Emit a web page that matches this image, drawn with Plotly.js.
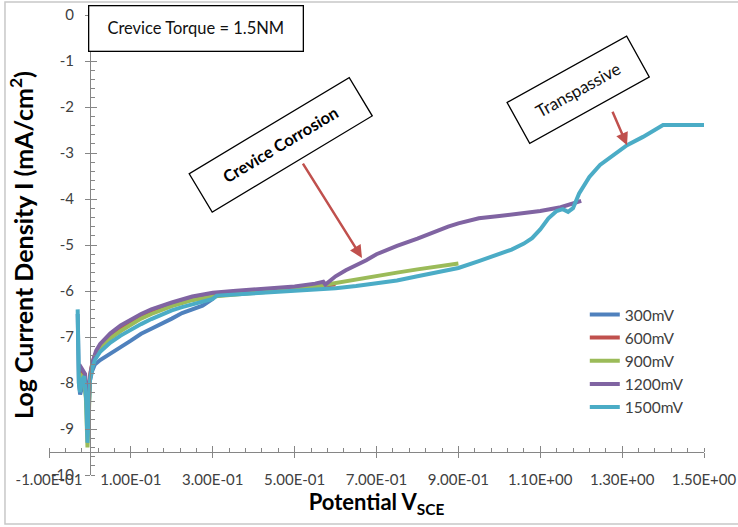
<!DOCTYPE html>
<html><head><meta charset="utf-8">
<script src="https://cdn.plot.ly/plotly-3.0.1.min.js"></script>
<style>html,body{margin:0;padding:0;background:#fff}#chart{width:738px;height:527px}</style>
</head><body><div id="chart"></div>
<script>
// ---- data ----
const seriesNames = ["300mV", "600mV", "900mV", "1200mV", "1500mV"];
const seriesColors = ["#4F81BD", "#C0504D", "#9BBB59", "#8064A2", "#4BACC6"];

const x300 = [-0.030, -0.029, -0.027, -0.024, -0.018, -0.012, -0.008, -0.005, -0.002, 0.000, 0.005, 0.012, 0.025, 0.05, 0.075, 0.10, 0.125, 0.15, 0.175, 0.20, 0.225, 0.25, 0.275, 0.30];
const y300 = [-6.5, -7.3, -8.0, -8.25, -8.05, -7.95, -8.3, -8.9, -8.4, -7.95, -7.75, -7.6, -7.5, -7.35, -7.22, -7.08, -6.93, -6.82, -6.72, -6.6, -6.48, -6.4, -6.32, -6.17];

const x600 = [-0.026, -0.018, -0.010, -0.006, -0.003, 0.000, 0.005, 0.012, 0.025, 0.05, 0.075, 0.10, 0.125, 0.15, 0.175, 0.20, 0.25, 0.30, 0.35, 0.40, 0.45, 0.50, 0.55, 0.60];
const y600 = [-7.7, -7.8, -8.1, -8.8, -8.4, -7.85, -7.6, -7.4, -7.2, -6.98, -6.82, -6.68, -6.56, -6.46, -6.37, -6.3, -6.16, -6.07, -6.02, -5.99, -5.96, -5.93, -5.9, -5.86];

const x900 = [-0.025, -0.016, -0.010, -0.006, -0.003, 0.000, 0.005, 0.012, 0.025, 0.05, 0.075, 0.10, 0.125, 0.15, 0.175, 0.20, 0.25, 0.30, 0.35, 0.40, 0.45, 0.50, 0.55, 0.60, 0.65, 0.70, 0.75, 0.80, 0.85, 0.90];
const y900 = [-7.8, -7.9, -8.3, -9.4, -8.8, -7.9, -7.65, -7.45, -7.25, -7.03, -6.87, -6.73, -6.6, -6.5, -6.41, -6.33, -6.2, -6.12, -6.08, -6.05, -6.01, -5.97, -5.9, -5.82, -5.75, -5.68, -5.6, -5.53, -5.46, -5.4];

const x1200 = [-0.026, -0.020, -0.012, -0.007, -0.004, -0.001, 0.002, 0.008, 0.015, 0.025, 0.05, 0.075, 0.10, 0.125, 0.15, 0.175, 0.20, 0.25, 0.30, 0.35, 0.40, 0.45, 0.50, 0.55, 0.57, 0.575, 0.60, 0.625, 0.65, 0.675, 0.70, 0.725, 0.75, 0.80, 0.825, 0.85, 0.875, 0.90, 0.95, 1.00, 1.05, 1.10, 1.15, 1.20];
const y1200 = [-7.6, -7.7, -7.8, -8.3, -8.6, -8.0, -7.75, -7.5, -7.3, -7.15, -6.92, -6.75, -6.62, -6.5, -6.4, -6.32, -6.25, -6.12, -6.04, -6.0, -5.97, -5.93, -5.9, -5.84, -5.8, -5.86, -5.68, -5.55, -5.45, -5.33, -5.2, -5.1, -5.02, -4.86, -4.77, -4.68, -4.6, -4.53, -4.42, -4.37, -4.32, -4.26, -4.18, -4.04];

const x1500 = [-0.030, -0.029, -0.027, -0.024, -0.020, -0.014, -0.009, -0.006, -0.003, 0.000, 0.005, 0.012, 0.025, 0.05, 0.075, 0.10, 0.125, 0.15, 0.175, 0.20, 0.225, 0.25, 0.275, 0.30, 0.31, 0.35, 0.40, 0.45, 0.50, 0.55, 0.60, 0.65, 0.70, 0.75, 0.80, 0.85, 0.90, 0.95, 1.00, 1.03, 1.06, 1.08, 1.10, 1.12, 1.14, 1.155, 1.168, 1.18, 1.195, 1.21, 1.22, 1.246, 1.28, 1.312, 1.351, 1.40, 1.45, 1.50];
const y1500 = [-6.4, -7.2, -8.0, -8.2, -7.95, -7.85, -8.4, -9.3, -8.7, -7.95, -7.7, -7.5, -7.32, -7.12, -6.97, -6.84, -6.72, -6.61, -6.51, -6.42, -6.35, -6.29, -6.23, -6.17, -6.1, -6.08, -6.06, -6.03, -6.0, -5.97, -5.94, -5.89, -5.83, -5.77, -5.68, -5.6, -5.5, -5.35, -5.18, -5.1, -4.97, -4.85, -4.66, -4.42, -4.26, -4.22, -4.28, -4.2, -3.88, -3.65, -3.52, -3.26, -3.03, -2.83, -2.65, -2.39, -2.39, -2.39];

const xTickVals = [-0.1, 0.1, 0.3, 0.5, 0.7, 0.9, 1.1, 1.3, 1.5];
const xTickText = ["-1.00E-01", "1.00E-01", "3.00E-01", "5.00E-01", "7.00E-01", "9.00E-01", "1.10E+00", "1.30E+00", "1.50E+00"];
const yTickVals = [0, -1, -2, -3, -4, -5, -6, -7, -8, -9, -10];
const yTickText = ["0", "-1", "-2", "-3", "-4", "-5", "-6", "-7", "-8", "-9", "-10"];

const xs = [x300, x600, x900, x1200, x1500];
const ys = [y300, y600, y900, y1200, y1500];

// ---- traces ----
const traces = seriesNames.map((n, i) => ({
  type: "scatter", mode: "lines", name: n,
  x: xs[i], y: ys[i],
  line: {color: seriesColors[i], width: 4},
  hoverinfo: "x+y+name"
}));
// empty helper trace so the overlay axes (inside half of cross ticks) exist
traces.push({type: "scatter", mode: "lines", x: [], y: [], xaxis: "x2", yaxis: "y2", showlegend: false, hoverinfo: "skip"});

const axisGray = "#868686";
const txt = "#404040";
const fam = "Lato, 'Open Sans', sans-serif";

const layout = {
  width: 738, height: 527,
  margin: {l: 49, r: 34, t: 15, b: 52},
  paper_bgcolor: "#ffffff", plot_bgcolor: "#ffffff",
  showlegend: true,
  legend: {x: 0.818, y: 0.385, xanchor: "left", yanchor: "top",
           font: {family: fam, size: 15.5, color: txt}, bgcolor: "rgba(0,0,0,0)",
           itemwidth: 30, tracegroupgap: 0},
  xaxis: {
    range: [-0.1, 1.5], domain: [0, 1], anchor: "free", position: 0.05,
    tickmode: "array", tickvals: xTickVals, ticktext: xTickText,
    ticks: "outside", ticklen: 5, tickcolor: axisGray, tickwidth: 1,
    showline: true, linecolor: axisGray, linewidth: 1,
    showgrid: false, zeroline: false, automargin: false,
    minor: {tickmode: "linear", tick0: -0.1, dtick: 0.04, ticks: "inside", ticklen: 4, tickcolor: axisGray, showgrid: false},
    tickfont: {family: fam, size: 15, color: txt},
    ticklabelstandoff: 9,
    title: {text: "Potential V<sub>SCE</sub>", font: {family: fam, size: 22, color: "#000", weight: "bold"}, standoff: 4}
  },
  yaxis: {
    range: [-10, 0], domain: [0, 1], anchor: "free", position: 0.0625,
    tickmode: "array", tickvals: yTickVals, ticktext: yTickText,
    ticks: "outside", ticklen: 5, tickcolor: axisGray, tickwidth: 1,
    showline: true, linecolor: axisGray, linewidth: 1,
    showgrid: false, zeroline: false, automargin: false,
    minor: {tickmode: "linear", tick0: 0, dtick: 0.2, ticks: "inside", ticklen: 4, tickcolor: axisGray, showgrid: false},
    tickfont: {family: fam, size: 15, color: txt},
    ticklabelstandoff: 8,
    title: {text: "Log Current Density I (mA/cm<sup>2</sup>)", font: {family: fam, size: 25, color: "#000", weight: "bold"}, standoff: 9}
  },
  xaxis2: {
    overlaying: "x", anchor: "free", position: 0.05, range: [-0.1, 1.5],
    tickmode: "array", tickvals: xTickVals, ticks: "inside", ticklen: 6, tickcolor: axisGray,
    showticklabels: false, showline: false, showgrid: false, zeroline: false
  },
  yaxis2: {
    overlaying: "y", anchor: "free", position: 0.0625, range: [-10, 0],
    tickmode: "array", tickvals: yTickVals, ticks: "inside", ticklen: 6, tickcolor: axisGray,
    showticklabels: false, showline: false, showgrid: false, zeroline: false
  },
  shapes: [
    {type: "rect", xref: "paper", yref: "paper", x0: -0.0672, x1: 1.06, y0: -0.1065, y1: 1.028,
     line: {color: "#c8c8c8", width: 1.5}, fillcolor: "rgba(0,0,0,0)", layer: "below"}
  ],
  annotations: [
    {xref: "paper", yref: "paper", x: 0.224, y: 0.971, xanchor: "center", yanchor: "middle",
     text: "Crevice Torque = 1.5NM", showarrow: false, width: 211, height: 42, borderpad: 1,
     bordercolor: "#000", borderwidth: 1.3, bgcolor: "#fff",
     font: {family: fam, size: 16.5, color: "#111"}},
    {xref: "paper", yref: "paper", x: 0.3535, y: 0.7165, xanchor: "center", yanchor: "middle",
     text: "<b>Crevice Corrosion</b>", showarrow: false, textangle: -31, width: 183, height: 41, borderpad: 1,
     bordercolor: "#000", borderwidth: 1.3, bgcolor: "#fff",
     font: {family: fam, size: 16.5, color: "#000"}},
    {xref: "paper", yref: "paper", x: 0.807, y: 0.838, xanchor: "center", yanchor: "middle",
     text: "Transpassive", showarrow: false, textangle: -29, width: 133, height: 43, borderpad: 1,
     bordercolor: "#000", borderwidth: 1.3, bgcolor: "#fff",
     font: {family: fam, size: 17, color: "#111"}},
    {xref: "x", yref: "y", axref: "x", ayref: "y", x: 0.6645, y: -5.28, ax: 0.518, ay: -3.2,
     text: "", showarrow: true, arrowhead: 2, arrowsize: 1, arrowwidth: 2.5, arrowcolor: "#C0504D", standoff: 0, startstandoff: 0},
    {xref: "x", yref: "y", axref: "x", ayref: "y", x: 1.312, y: -2.83, ax: 1.275, ay: -2.07,
     text: "", showarrow: true, arrowhead: 2, arrowsize: 1, arrowwidth: 2.5, arrowcolor: "#C0504D", standoff: 0, startstandoff: 0}
  ]
};

Plotly.newPlot("chart", traces, layout, {displayModeBar: false, responsive: false});
</script>
</body></html>
